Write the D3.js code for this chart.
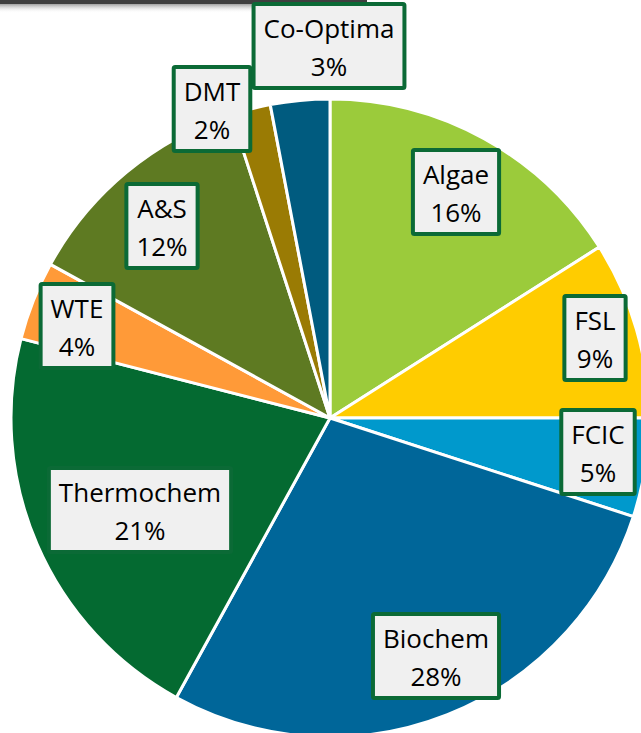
<!DOCTYPE html>
<html>
<head>
<meta charset="utf-8">
<script src="https://cdn.jsdelivr.net/npm/d3@7"></script>
<style>
  body { margin: 0; background: #fff; }
  svg { display: block; }
</style>
</head>
<body>
<div id="chart"></div>
<script>
// Program share data (clockwise from 12 o'clock)
const programs = ["Algae", "FSL", "FCIC", "Biochem", "Thermochem", "WTE", "A&S", "DMT", "Co-Optima"];
const shares = [16, 9, 5, 28, 21, 4, 12, 2, 3];
const sliceColors = ["#9bcb3b", "#ffcc00", "#0099cc", "#006699", "#046a31", "#ff9a38", "#5e7a22", "#9a7b04", "#005b7f"];

// label box centres, placed by hand like the original
const labelCenters = {
  "Algae": [456, 192],
  "FSL": [595, 338],
  "FCIC": [598, 452],
  "Biochem": [436, 656],
  "Thermochem": [140, 510],
  "WTE": [77, 326],
  "A&S": [162, 226],
  "DMT": [212, 109],
  "Co-Optima": [329, 46]
};

const width = 641, height = 733;
const cx = 330, cy = 418, radius = 319;

const svg = d3.select("#chart")
  .append("svg")
  .attr("width", width)
  .attr("height", height);

// dark frame edge with shadow at the top left
const defs = svg.append("defs");
const grad = defs.append("linearGradient")
  .attr("id", "shadow")
  .attr("x1", 0).attr("y1", 0).attr("x2", 0).attr("y2", 1);
grad.append("stop").attr("offset", "0%").attr("stop-color", "#8a8a8a");
grad.append("stop").attr("offset", "100%").attr("stop-color", "#ffffff").attr("stop-opacity", 0);

svg.append("rect")
  .attr("x", 0).attr("y", 3)
  .attr("width", 367).attr("height", 10)
  .attr("fill", "url(#shadow)");
svg.append("rect")
  .attr("x", 0).attr("y", 0)
  .attr("width", 367).attr("height", 4)
  .attr("fill", "#3f3f3f");

const data = programs.map((name, i) => ({ name: name, value: shares[i], color: sliceColors[i] }));

const pie = d3.pie()
  .value(d => d.value)
  .sort(null)
  .startAngle(0)
  .endAngle(2 * Math.PI);

const arc = d3.arc()
  .innerRadius(0)
  .outerRadius(radius);

const g = svg.append("g")
  .attr("transform", "translate(" + cx + "," + cy + ")");

g.selectAll(".slice")
  .data(pie(data))
  .enter().append("path")
  .attr("class", "slice")
  .attr("d", arc)
  .attr("fill", d => d.data.color)
  .attr("stroke", "#ffffff")
  .attr("stroke-width", 3)
  .attr("stroke-linejoin", "round");

// labels
const fontSize = 26;

const labels = svg.selectAll(".label")
  .data(data)
  .enter().append("g")
  .attr("class", "label")
  .attr("transform", d => "translate(" + labelCenters[d.name][0] + "," + labelCenters[d.name][1] + ")");

labels.each(function (d) {
  const lg = d3.select(this);
  const box = lg.append("rect");
  const t1 = lg.append("text")
    .attr("text-anchor", "middle")
    .attr("y", -8)
    .attr("font-family", "'Open Sans', 'Noto Sans', sans-serif")
    .attr("font-size", fontSize)
    .attr("fill", "#000")
    .text(d.name);
  const t2 = lg.append("text")
    .attr("text-anchor", "middle")
    .attr("y", 30)
    .attr("font-family", "'Open Sans', 'Noto Sans', sans-serif")
    .attr("font-size", fontSize)
    .attr("fill", "#000")
    .text(d.value + "%");
  const w = Math.max(t1.node().getComputedTextLength(), t2.node().getComputedTextLength()) + 20;
  const h = 84;
  box.attr("x", -w / 2)
    .attr("y", -h / 2)
    .attr("width", w)
    .attr("height", h)
    .attr("fill", "#f0f0f0")
    .attr("stroke", "#0b6a36")
    .attr("stroke-width", 4)
    .attr("rx", 1.5);
});
</script>
</body>
</html>
